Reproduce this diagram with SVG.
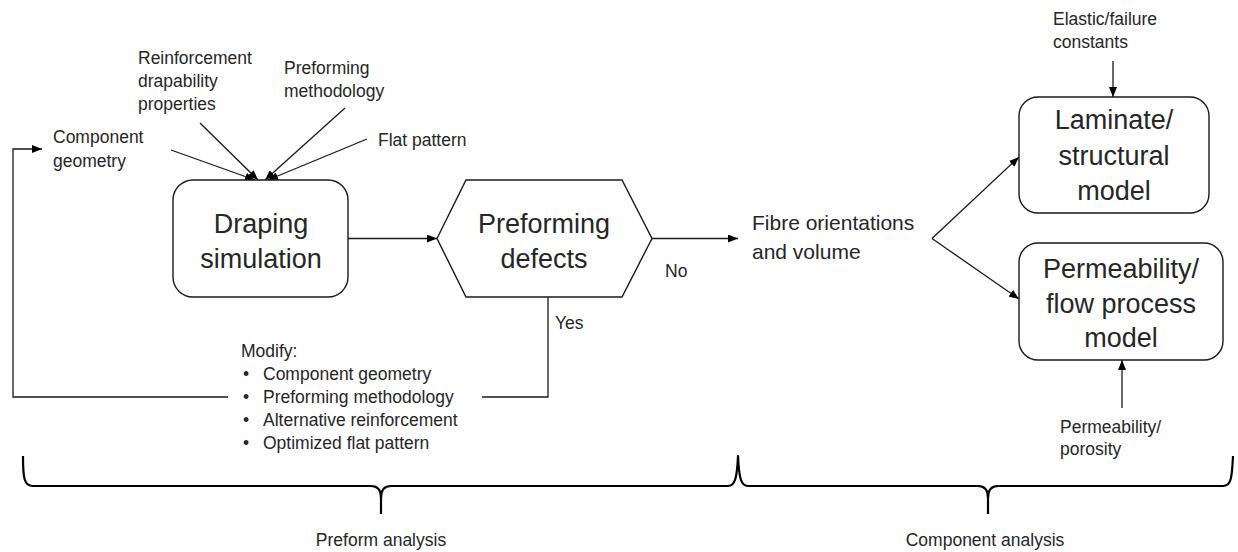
<svg xmlns="http://www.w3.org/2000/svg" width="1238" height="552" viewBox="0 0 1238 552">
<defs>
<marker id="arr" markerUnits="userSpaceOnUse" markerWidth="10" markerHeight="8" refX="10" refY="4" orient="auto">
<path d="M0,0 L10,4 L0,8 z" fill="#000"/>
</marker>
<style>
.t{font-family:"Liberation Sans",Arial,sans-serif;fill:#262626;}
.big{font-size:27px;text-anchor:middle;}
.sm{font-size:17.5px;}
.mid{font-size:21px;}
.box{fill:#fff;stroke:#1a1a1a;stroke-width:1.4;}
.ln{fill:none;stroke:#1a1a1a;stroke-width:1.3;}
.ar{fill:none;stroke:#1a1a1a;stroke-width:1.3;marker-end:url(#arr);}
.br{fill:none;stroke:#000;stroke-width:2.2;stroke-linejoin:round;}
</style>
</defs>
<rect width="1238" height="552" fill="#fff"/>

<g id="connectors">
<line class="ar" x1="171" y1="150" x2="255" y2="180"/>
<line class="ar" x1="200" y1="123" x2="258" y2="180"/>
<line class="ar" x1="345" y1="108" x2="265" y2="180"/>
<line class="ar" x1="367" y1="139" x2="268" y2="180"/>
<line class="ar" x1="348" y1="238.5" x2="437" y2="238.5"/>
<line class="ar" x1="652" y1="238.5" x2="738" y2="238.5"/>
<line class="ar" x1="932" y1="238.5" x2="1019" y2="157"/>
<line class="ar" x1="932" y1="238.5" x2="1019" y2="299"/>
<line class="ar" x1="1113" y1="61" x2="1113" y2="97"/>
<line class="ar" x1="1122" y1="408" x2="1122" y2="360"/>
<polyline class="ln" points="548,297 548,397 482,397"/>
<polyline class="ar" points="228,397 13,397 13,149 42,149"/>
</g>

<g id="draping">
<rect class="box" x="173" y="180" width="175" height="117" rx="20" ry="20"/>
<text class="t big" x="261" y="233">Draping</text>
<text class="t big" x="261" y="268">simulation</text>
</g>

<g id="defects">
<polygon class="box" points="437,238.5 466,180 622,180 652,238.5 622,297 466,297"/>
<text class="t big" x="544" y="233">Preforming</text>
<text class="t big" x="544" y="268">defects</text>
</g>

<g id="laminate">
<rect class="box" x="1019" y="97" width="190" height="116" rx="19" ry="19"/>
<text class="t big" x="1114" y="129">Laminate/</text>
<text class="t big" x="1114" y="165">structural</text>
<text class="t big" x="1114" y="200">model</text>
</g>

<g id="permeability">
<rect class="box" x="1019" y="243" width="204" height="117" rx="19" ry="19"/>
<text class="t big" x="1121" y="278">Permeability/</text>
<text class="t big" x="1121" y="313">flow process</text>
<text class="t big" x="1121" y="347">model</text>
</g>

<g id="fibre">
<text class="t mid" x="752" y="230">Fibre orientations</text>
<text class="t mid" x="752" y="259">and volume</text>
</g>

<g id="inputs">
<text class="t sm" x="53" y="143">Component</text>
<text class="t sm" x="53" y="167">geometry</text>
<text class="t sm" x="138" y="64">Reinforcement</text>
<text class="t sm" x="138" y="87">drapability</text>
<text class="t sm" x="138" y="110">properties</text>
<text class="t sm" x="284" y="74">Preforming</text>
<text class="t sm" x="284" y="97">methodology</text>
<text class="t sm" x="378" y="146">Flat pattern</text>
<text class="t sm" x="1053" y="25">Elastic/failure</text>
<text class="t sm" x="1053" y="48">constants</text>
<text class="t sm" x="1060" y="433">Permeability/</text>
<text class="t sm" x="1060" y="455">porosity</text>
</g>

<g id="labels">
<text class="t sm" x="665" y="277">No</text>
<text class="t sm" x="555" y="329">Yes</text>
</g>

<g id="modify">
<text class="t sm" x="241" y="357">Modify:</text>
<text class="t sm" x="243" y="380">•</text>
<text class="t sm" x="263" y="380">Component geometry</text>
<text class="t sm" x="243" y="403">•</text>
<text class="t sm" x="263" y="403">Preforming methodology</text>
<text class="t sm" x="243" y="426">•</text>
<text class="t sm" x="263" y="426">Alternative reinforcement</text>
<text class="t sm" x="243" y="449">•</text>
<text class="t sm" x="263" y="449">Optimized flat pattern</text>
</g>

<g id="braces">
<path class="br" d="M23,456 C23,478 24,486 33,486 L371,486 C378,486 381,490 381,498 L381,514 M381,498 C381,490 384,486 391,486 L728,486 C735,486 737,478 738,456 C739,478 741,486 748,486 L978,486 C985,486 988,490 988,498 L988,514 M988,498 C988,490 991,486 998,486 L1223,486 C1231,486 1232,478 1233,456"/>
<text class="t sm" x="381" y="546" text-anchor="middle">Preform analysis</text>
<text class="t sm" x="985" y="546" text-anchor="middle">Component analysis</text>
</g>
</svg>
